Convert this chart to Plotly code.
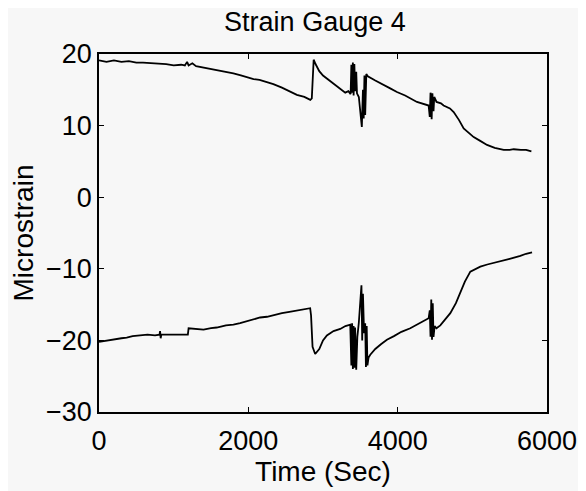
import plotly.graph_objects as go

# Upper strain trace (time in s, microstrain)
upper_t = [0, 100, 200, 300, 400, 500, 590, 700, 800, 900, 1000, 1100, 1150, 1180, 1200, 1250,
           1300, 1400, 1530, 1650, 1800, 1900, 2000, 2070, 2150, 2250, 2335, 2450, 2550, 2650,
           2750, 2830, 2850, 2875, 2900, 2950, 3000, 3100, 3200, 3298, 3340, 3370, 3380, 3390,
           3400, 3410, 3420, 3430, 3445, 3455, 3480, 3500, 3520, 3535, 3545, 3555, 3565, 3580,
           3600, 3700, 3800, 3900, 3990, 4100, 4258, 4350, 4415, 4430, 4440, 4455, 4465, 4480,
           4490, 4520, 4580, 4615, 4700, 4750, 4820, 4884, 4950, 5018, 5100, 5197, 5300, 5420,
           5500, 5555, 5650, 5720, 5791]
upper_y = [19.1, 18.9, 19.1, 18.9, 19.0, 18.8, 18.8, 18.7, 18.6, 18.6, 18.4, 18.5, 18.4, 18.9, 18.4, 18.7,
           18.3, 18.1, 17.9, 17.7, 17.3, 17.0, 16.7, 16.5, 16.4, 16.1, 15.8, 15.3, 14.8, 14.3,
           14.0, 13.6, 13.8, 19.2, 18.6, 17.6, 17.0, 16.2, 15.5, 14.6, 14.8, 14.4, 18.5, 14.6,
           18.8, 14.2, 18.6, 14.8, 17.5, 14.5, 14.0, 12.0, 9.8, 15.0, 11.0, 17.0, 11.5, 17.2,
           16.9, 16.3, 15.8, 15.2, 14.7, 14.2, 13.3, 13.0, 12.8, 11.2, 14.6, 10.9, 14.5, 12.0,
           14.0, 13.3, 13.1, 12.8, 12.4, 11.9, 10.8, 9.6, 9.0, 8.4, 7.9, 7.3, 6.9, 6.6,
           6.6, 6.7, 6.6, 6.6, 6.4]

# Lower strain trace
lower_t = [0, 100, 200, 300, 371, 450, 550, 650, 750, 810, 818, 826, 835, 950, 1050, 1150, 1190,
           1200, 1300, 1400, 1500, 1577, 1700, 1800, 1890, 2000, 2100, 2158, 2250, 2350, 2450,
           2550, 2650, 2750, 2828, 2840, 2860, 2895, 2950, 3000, 3052, 3141, 3231, 3300, 3365,
           3380, 3390, 3400, 3410, 3420, 3430, 3445, 3460, 3480, 3500, 3515, 3525, 3535, 3550,
           3565, 3575, 3585, 3595, 3610, 3633, 3700, 3780, 3856, 3950, 4050, 4169, 4300, 4415,
           4430, 4440, 4450, 4460, 4470, 4480, 4495, 4520, 4571, 4640, 4705, 4780, 4839, 4900,
           4973, 5040, 5107, 5200, 5300, 5375, 5500, 5643, 5720, 5800]
lower_y = [-20.2, -20.0, -19.8, -19.7, -19.6, -19.4, -19.3, -19.2, -19.3, -19.2, -18.7, -19.7, -19.2,
           -19.2, -19.2, -19.2, -19.2, -18.3, -18.4, -18.5, -18.3, -18.2, -17.9, -17.8, -17.6,
           -17.3, -17.0, -16.8, -16.7, -16.4, -16.2, -16.0, -15.8, -15.6, -15.5, -16.5, -20.9,
           -21.9, -21.2, -20.0, -19.3, -18.7, -18.4, -18.0, -17.8, -23.5, -17.6, -24.0, -18.0,
           -23.8, -18.2, -24.1, -19.5, -17.5, -14.0, -12.3, -20.0, -13.5, -19.0, -17.6, -23.7,
           -18.0, -23.5, -22.4, -22.0, -21.2, -20.5, -19.9, -19.4, -18.8, -18.3, -17.6, -16.9,
           -15.8, -19.5, -14.3, -19.9, -14.8, -19.5, -18.0, -18.3, -17.9, -17.0, -16.2, -14.8,
           -13.4, -11.8, -10.4, -10.0, -9.7, -9.4, -9.1, -8.9, -8.6, -8.2, -7.9, -7.7]

x_ticks = [0, 2000, 4000, 6000]
y_ticks = [-30, -20, -10, 0, 10, 20]

FONT = "Liberation Sans, Arial, Helvetica, sans-serif"
BG = "#f7f7f7"

fig = go.Figure()
fig.add_trace(go.Scatter(x=upper_t, y=upper_y, mode="lines",
                         line=dict(color="black", width=1.8), showlegend=False))
fig.add_trace(go.Scatter(x=lower_t, y=lower_y, mode="lines",
                         line=dict(color="black", width=1.8), showlegend=False))

axis_common = dict(showline=True, linecolor="black", linewidth=1.5, mirror="ticks",
                   ticks="inside", ticklen=5, tickcolor="black", tickwidth=1,
                   showgrid=False, zeroline=False, automargin=False,
                   tickfont=dict(family=FONT, size=27, color="black"))

# page has an 8px body margin, so the figure is 8px smaller than the window
fig.update_layout(
    width=578, height=483,
    margin=dict(l=91, r=39, t=46, b=79),
    paper_bgcolor=BG, plot_bgcolor=BG,
    title=dict(text="Strain Gauge 4", x=0.531, xanchor="center", y=1.0, yanchor="top",
               yref="container", pad=dict(t=4, b=0, l=0, r=0),
               font=dict(family=FONT, size=27, color="black")),
    xaxis=dict(range=[0, 6000], tickvals=x_ticks, ticklabelstandoff=4,
               title=dict(text="Time (Sec)", font=dict(family=FONT, size=28, color="black"), standoff=2),
               **axis_common),
    yaxis=dict(range=[-30, 20], tickvals=y_ticks,
               title=dict(text="Microstrain", font=dict(family=FONT, size=28, color="black"), standoff=8),
               **axis_common),
)

fig.write_html("out.html")
